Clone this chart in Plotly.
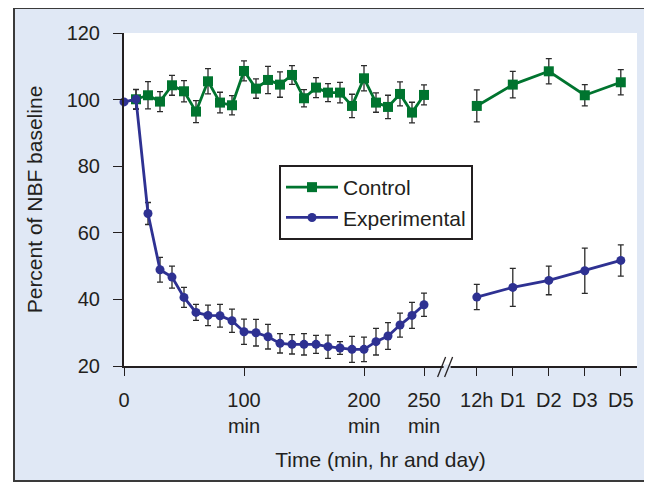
import plotly.graph_objects as go

# ---- data ----
minutes = [0, 10, 20, 30, 40, 50, 60, 70, 80, 90, 100, 110, 120, 130, 140,
           150, 160, 170, 180, 190, 200, 210, 220, 230, 240, 250]
late_labels = ["12h", "D1", "D2", "D3", "D5"]

ctrl_minutes = minutes[1:]
ctrl_early = [100.1, 101.3, 99.4, 104.3, 102.5, 96.4, 105.5, 99.1, 98.3, 108.6,
              103.3, 105.9, 104.5, 107.4, 100.4, 103.6, 102.1, 102.1, 98.1, 106.4,
              99.1, 97.8, 101.7, 96.1, 101.4]
ctrl_err_early = [2.9, 4.1, 3.0, 3.0, 3.2, 3.3, 3.8, 3.1, 2.9, 3.0, 2.9, 4.1, 3.8,
                  2.8, 2.6, 3.0, 2.7, 3.1, 3.5, 3.8, 2.9, 3.5, 3.6, 3.1, 3.0]
ctrl_late = [98.1, 104.5, 108.5, 101.3, 105.2]
ctrl_err_late = [4.8, 4.0, 3.8, 3.2, 3.8]

exp_early = [99.3, 100.1, 65.8, 48.9, 46.7, 40.6, 36.1, 35.2, 35.1, 33.6, 30.3,
             30.0, 28.8, 26.8, 26.5, 26.5, 26.5, 25.8, 25.4, 25.0, 25.0, 27.3,
             29.0, 32.3, 35.2, 38.4]
exp_err_early = [0, 3.0, 3.3, 3.7, 3.3, 3.0, 2.4, 3.1, 3.4, 3.5, 3.8, 4.0, 3.7,
                 2.9, 2.9, 3.2, 2.7, 3.5, 1.9, 3.9, 3.7, 4.0, 4.0, 3.6, 3.9, 3.5]
exp_late = [40.7, 43.6, 45.7, 48.6, 51.7]
exp_err_late = [3.8, 5.7, 4.3, 6.8, 4.7]

early_tick_vals = [0, 100, 200, 250]
early_tick_text = ["0", "100<br>min", "200<br>min", "250<br>min"]
y_tick_vals = [20, 40, 60, 80, 100, 120]

# ---- layout of the broken axis ----
LATE_START = 294      # axis position of the "12h" slot
LATE_STEP = 30        # spacing between late slots (axis units)
BREAK_AT = 268        # where the // mark sits
X_MAX = 427.5
late_x = [LATE_START + LATE_STEP * i for i in range(len(late_labels))]

GREEN = "#00742f"
BLUE = "#2e3192"
TXT = "#231f20"
ERR = "#2b2b2b"
BG = "#e0e8f5"


def join(a, b):
    return list(a) + [None] + list(b)


fig = go.Figure()
fig.add_trace(go.Scatter(
    x=join(ctrl_minutes, late_x), y=join(ctrl_early, ctrl_late),
    mode="lines+markers", name="Control", connectgaps=False,
    line=dict(color=GREEN, width=2.8),
    marker=dict(symbol="square", size=10, color=GREEN),
    error_y=dict(type="data", array=join(ctrl_err_early, ctrl_err_late),
                 color=ERR, thickness=1.3, width=3),
    cliponaxis=False,
))
fig.add_trace(go.Scatter(
    x=join(minutes, late_x), y=join(exp_early, exp_late),
    mode="lines+markers", name="Experimental", connectgaps=False,
    line=dict(color=BLUE, width=2.8),
    marker=dict(symbol="circle", size=9, color=BLUE),
    error_y=dict(type="data", array=join(exp_err_early, exp_err_late),
                 color=ERR, thickness=1.3, width=3),
    cliponaxis=False,
))

# figure geometry (page is offset by the 8px body margin)
OFF = 8
W, H = 644, 474
L, R, T, B = 116, 15, 25, 116
pw, ph = W - L - R, H - T - B


def px_x(p):          # page x pixel -> paper
    return (p - OFF - L) / pw


def px_y(p):          # page y pixel -> paper
    return (H - B - (p - OFF)) / ph


shapes = []
# light-blue framed panel
shapes.append(dict(type="rect", xref="paper", yref="paper",
                   x0=px_x(14), x1=px_x(720), y0=px_y(481), y1=px_y(8),
                   fillcolor=BG, line=dict(color="#3a3a3a", width=2),
                   layer="below"))
# white plotting area
shapes.append(dict(type="rect", xref="paper", yref="paper",
                   x0=0, x1=1, y0=0, y1=1, fillcolor="white",
                   line=dict(width=0), layer="below"))
# axis break: hide axis, draw //
bx = L + OFF + BREAK_AT / X_MAX * pw
shapes.append(dict(type="rect", xref="paper", yref="paper",
                   x0=px_x(bx - 2), x1=px_x(bx + 5), y0=px_y(368), y1=px_y(364.5),
                   fillcolor=BG, line=dict(width=0), layer="above"))
for off in (-4, 3):
    shapes.append(dict(type="line", xref="paper", yref="paper",
                       x0=px_x(bx + off - 4), y0=px_y(377),
                       x1=px_x(bx + off + 4), y1=px_y(357),
                       line=dict(color=TXT, width=1.3), layer="above"))

fig.update_layout(
    width=W, height=H,
    margin=dict(l=L, r=R, t=T, b=B, autoexpand=False),
    paper_bgcolor="white", plot_bgcolor="white",
    font=dict(family="Liberation Sans, Arial, sans-serif", size=20, color=TXT),
    showlegend=True,
    legend=dict(x=px_x(279), y=px_y(165), xanchor="left", yanchor="top",
                bgcolor="white", bordercolor="#231f20", borderwidth=2,
                font=dict(size=21), tracegroupgap=0, itemwidth=52),
    shapes=shapes,
    xaxis=dict(range=[0, X_MAX], showgrid=False, zeroline=False,
               showline=True, linecolor=TXT, linewidth=2,
               ticks="outside", ticklen=8, tickwidth=1.3, tickcolor=TXT,
               tickvals=early_tick_vals + late_x,
               ticktext=early_tick_text + late_labels,
               tickfont=dict(size=20), ticklabelstandoff=7,
               title=dict(text="Time (min, hr and day)", standoff=16,
                          font=dict(size=21))),
    yaxis=dict(range=[20, 120], showgrid=False, zeroline=False,
               showline=True, linecolor=TXT, linewidth=2,
               ticks="outside", ticklen=9, tickwidth=1.3, tickcolor=TXT,
               tickvals=y_tick_vals, tickfont=dict(size=20),
               ticklabelstandoff=9,
               title=dict(text="Percent of NBF baseline", standoff=18,
                          font=dict(size=21))),
)

fig.write_html("out.html")
